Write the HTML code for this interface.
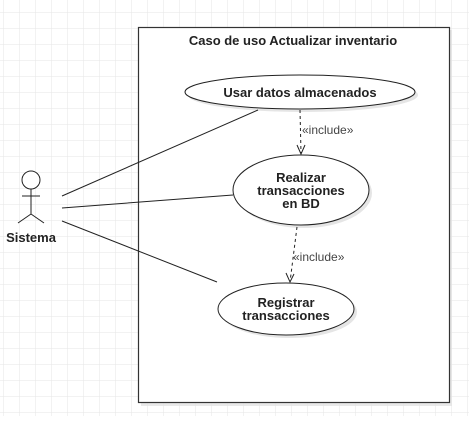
<!DOCTYPE html>
<html><head><style>
html,body{margin:0;padding:0;background:#fff;}
svg{display:block;font-family:"Liberation Sans",Arial,sans-serif;}
</style></head><body>
<svg width="469" height="423" viewBox="0 0 469 423" xmlns="http://www.w3.org/2000/svg">
<defs>
<pattern id="g" x="3" y="12" width="16" height="16" patternUnits="userSpaceOnUse">
<path d="M0 0H16M0 0V16" stroke="#e6e6e6" stroke-width="1" fill="none"/>
</pattern>
</defs>
<rect x="0" y="0" width="469" height="416" fill="url(#g)"/>
<rect x="141" y="30" width="311" height="376" fill="#e0e0e0" opacity="0.7"/>
<rect x="138.5" y="27.5" width="311" height="375" fill="#fff" stroke="#333" stroke-width="1.2"/>
<text x="293" y="45" text-anchor="middle" font-size="13" font-weight="bold" fill="#222">Caso de uso Actualizar inventario</text>

<ellipse cx="303" cy="95" rx="115" ry="17" fill="#e5e5e5"/>
<ellipse cx="300" cy="92" rx="115" ry="17" fill="#fff" stroke="#222"/>
<text x="300" y="97" text-anchor="middle" font-size="13" font-weight="bold" fill="#222">Usar datos almacenados</text>

<ellipse cx="304" cy="193" rx="68" ry="35" fill="#e5e5e5"/>
<ellipse cx="301" cy="190" rx="68" ry="35" fill="#fff" stroke="#222"/>
<text text-anchor="middle" font-size="13" font-weight="bold" fill="#222"><tspan x="301" y="182">Realizar</tspan><tspan x="301" y="195">transacciones</tspan><tspan x="301" y="208">en BD</tspan></text>

<ellipse cx="289" cy="312" rx="68" ry="26" fill="#e5e5e5"/>
<ellipse cx="286" cy="309" rx="68" ry="26" fill="#fff" stroke="#222"/>
<text text-anchor="middle" font-size="13" font-weight="bold" fill="#222"><tspan x="286" y="307">Registrar</tspan><tspan x="286" y="320">transacciones</tspan></text>

<g stroke="#222" fill="none" stroke-width="1">
<circle cx="31" cy="180" r="9" fill="#fff"/>
<path d="M31 189V214M22 196H40M31 214L18 223M31 214L44 223"/>
<path d="M62 196L258 110M62 208L233 195M62 221L217 282"/>
<path d="M300 110L301 153" stroke-dasharray="3,3"/>
<path d="M297 145L301 154L305 145"/>
<path d="M297 227L290 282" stroke-dasharray="3,3"/>
<path d="M286 273L290 282L294 274"/>
</g>
<text x="31" y="242" text-anchor="middle" font-size="13" font-weight="bold" fill="#222">Sistema</text>
<text x="302" y="134" font-size="12" fill="#444">«include»</text>
<text x="293" y="261" font-size="12" fill="#444">«include»</text>
</svg>
</body></html>
